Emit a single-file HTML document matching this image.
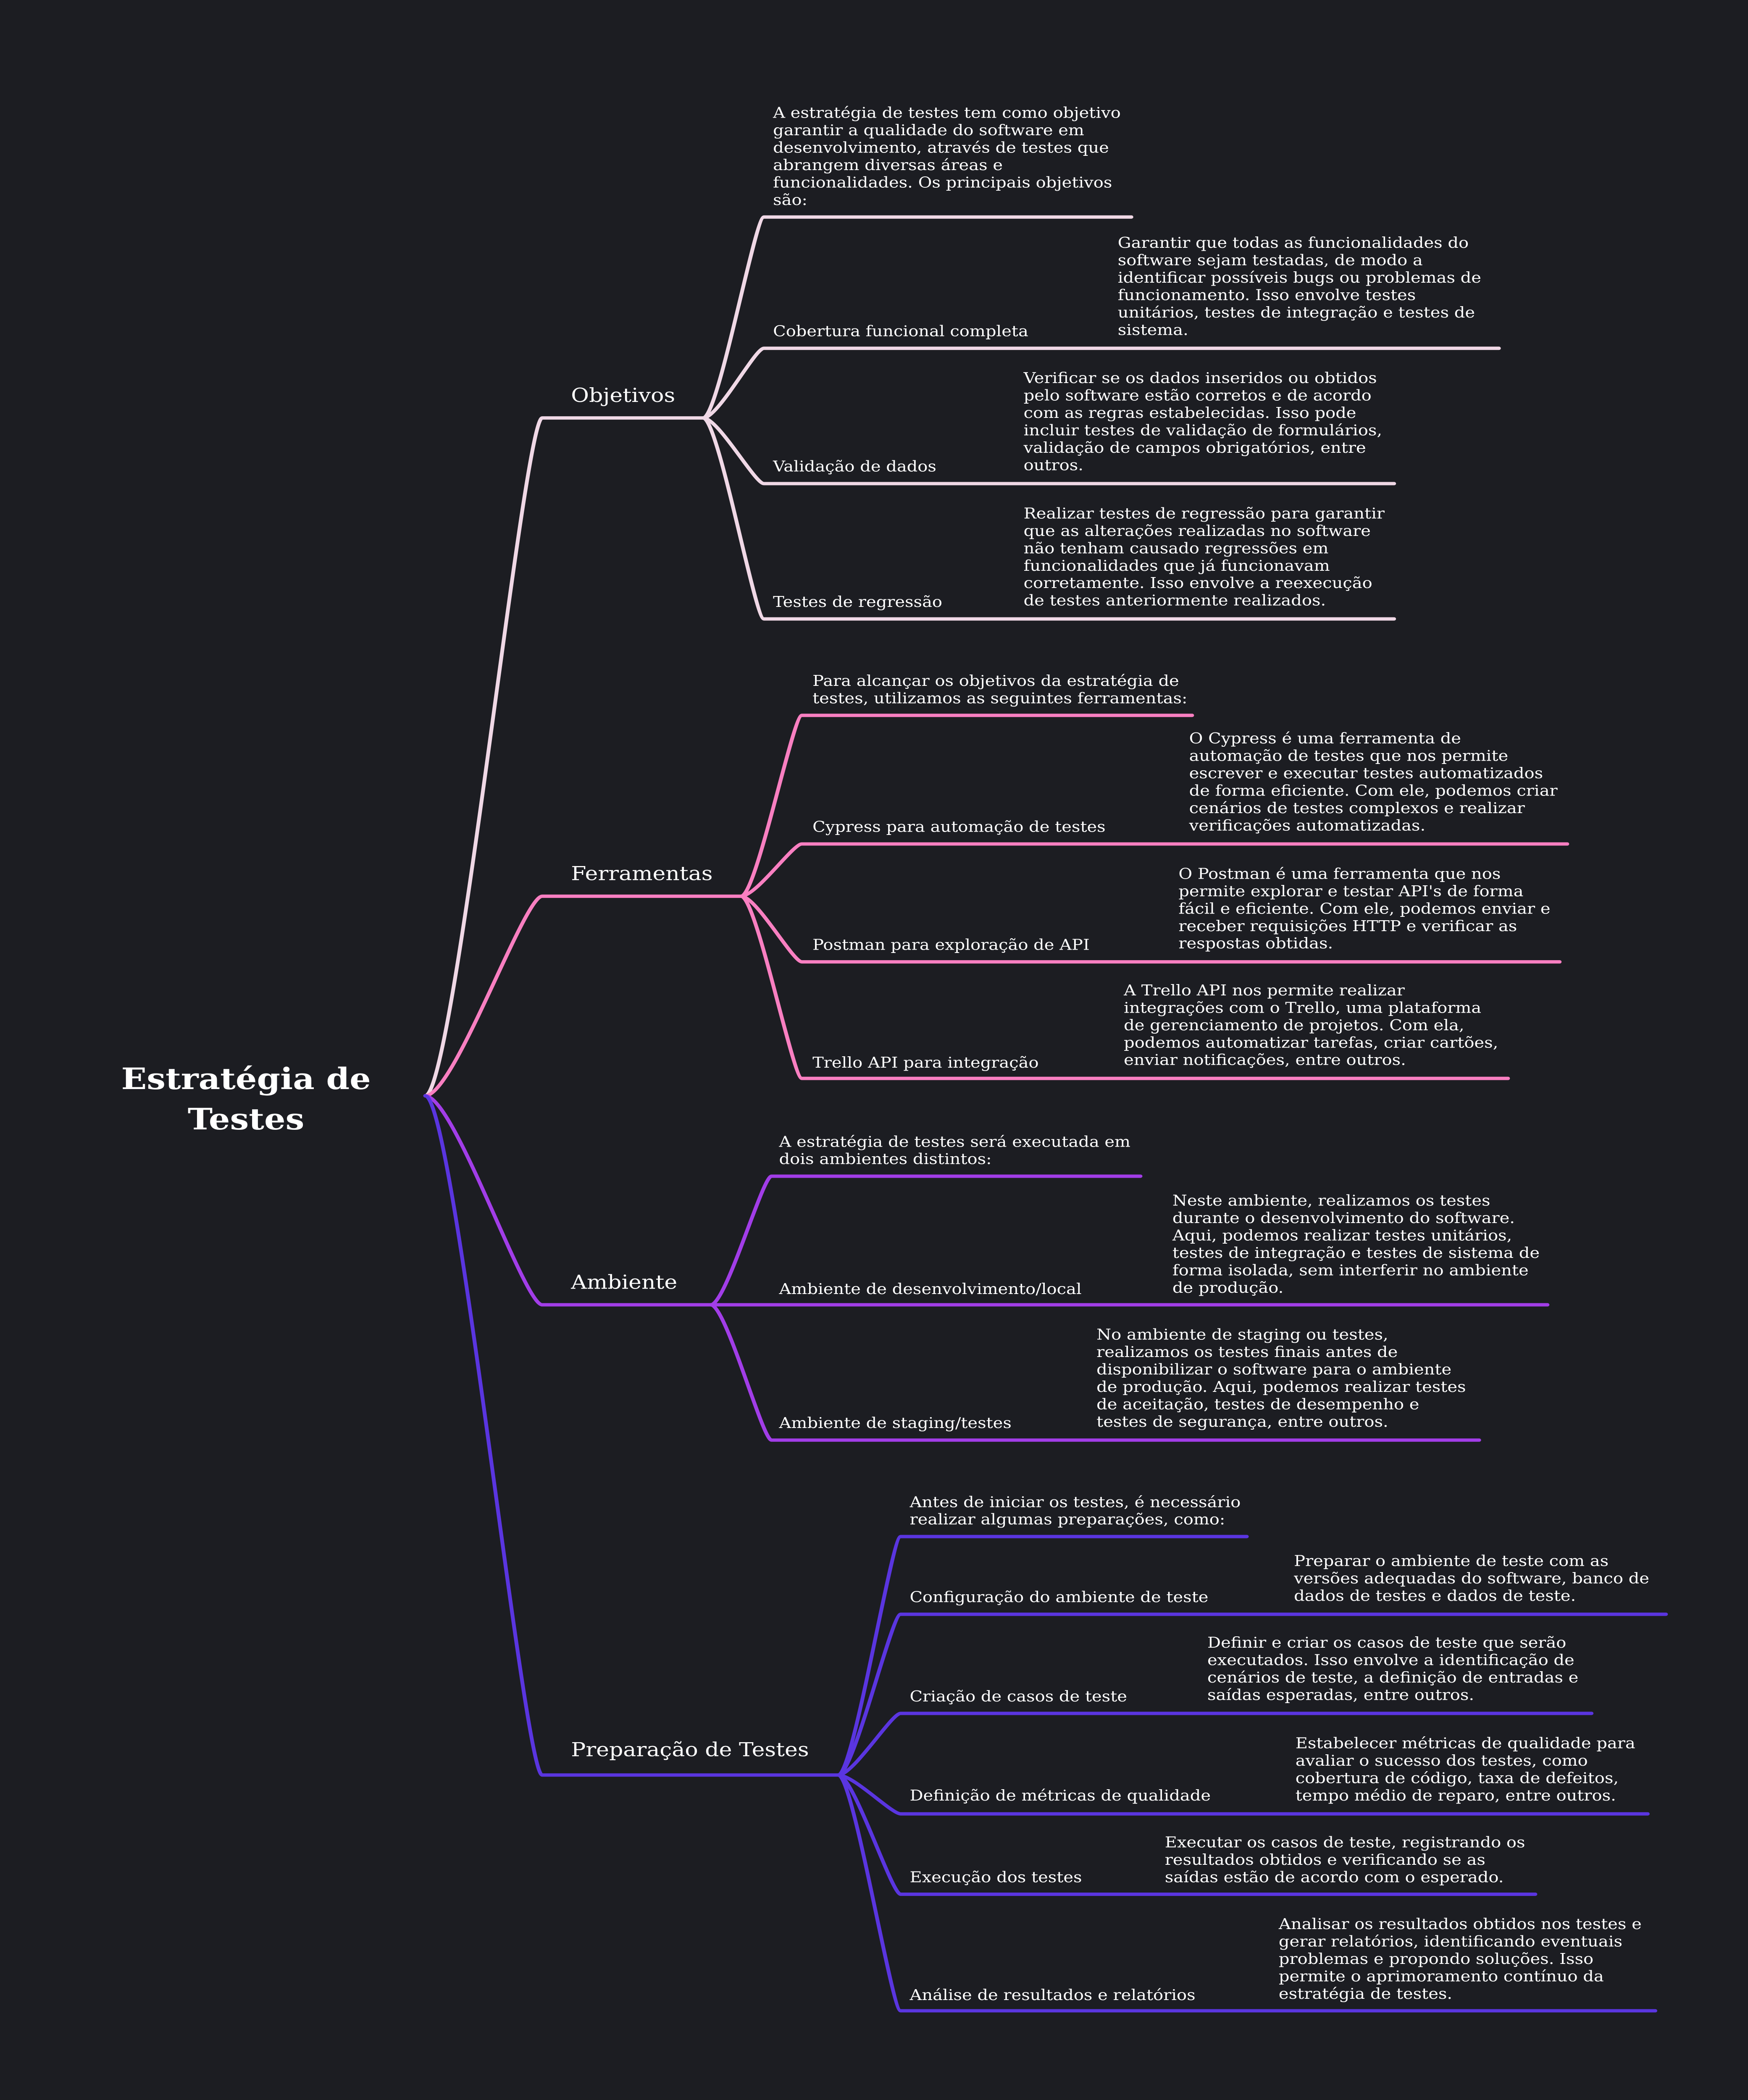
<!DOCTYPE html>
<html><head><meta charset="utf-8">
<style>
html,body{margin:0;padding:0;background:#1c1d22;width:100vw;height:100vh;overflow:hidden;}
svg{display:block;position:absolute;left:0;top:0;width:100vw;height:100vh;}
text{font-family:"DejaVu Serif","Liberation Serif",serif;fill:#ffffff;}
.b{font-size:11.07px;}
.m{font-size:14.4px;}
.r{font-size:22px;font-weight:bold;}
path{fill:none;stroke-width:2.5;stroke-linecap:round;}
</style></head>
<body>
<svg viewBox="0 0 1151 1567.6" preserveAspectRatio="none" xmlns="http://www.w3.org/2000/svg">
<rect width="1151" height="1568" fill="#1c1d22"/>

<text class="r" x="162" y="813" text-anchor="middle">Estratégia de</text>
<text class="r" x="162" y="843" text-anchor="middle">Testes</text>

<path stroke="#f0d8e6" d="M280,818 C299,818 345,312 357,312 L463,312"/>
<path stroke="#f97fc1" d="M280,818 C299,818 345,669 357,669 L488,669"/>
<path stroke="#a23de8" d="M280,818 C299,818 345,974 357,974 L468,974"/>
<path stroke="#5a35e0" d="M280,818 C299,818 345,1325 357,1325 L552,1325"/>

<text class="m" x="376" y="300">Objetivos</text>
<g stroke="#f0d8e6">
<path d="M463,312 C473,312 497,162 503,162 L745,162"/>
<path d="M463,312 C473,312 497,260 503,260 L987,260"/>
<path d="M463,312 C473,312 497,361 503,361 L918,361"/>
<path d="M463,312 C473,312 497,462 503,462 L918,462"/>
</g>
<g class="b">
<text x="509" y="88">A estratégia de testes tem como objetivo</text>
<text x="509" y="101">garantir a qualidade do software em</text>
<text x="509" y="114">desenvolvimento, através de testes que</text>
<text x="509" y="127">abrangem diversas áreas e</text>
<text x="509" y="140">funcionalidades. Os principais objetivos</text>
<text x="509" y="153">são:</text>

<text x="509" y="251">Cobertura funcional completa</text>
<text x="736" y="185">Garantir que todas as funcionalidades do</text>
<text x="736" y="198">software sejam testadas, de modo a</text>
<text x="736" y="211">identificar possíveis bugs ou problemas de</text>
<text x="736" y="224">funcionamento. Isso envolve testes</text>
<text x="736" y="237">unitários, testes de integração e testes de</text>
<text x="736" y="250">sistema.</text>

<text x="509" y="352">Validação de dados</text>
<text x="674" y="286">Verificar se os dados inseridos ou obtidos</text>
<text x="674" y="299">pelo software estão corretos e de acordo</text>
<text x="674" y="312">com as regras estabelecidas. Isso pode</text>
<text x="674" y="325">incluir testes de validação de formulários,</text>
<text x="674" y="338">validação de campos obrigatórios, entre</text>
<text x="674" y="351">outros.</text>

<text x="509" y="453">Testes de regressão</text>
<text x="674" y="387">Realizar testes de regressão para garantir</text>
<text x="674" y="400">que as alterações realizadas no software</text>
<text x="674" y="413">não tenham causado regressões em</text>
<text x="674" y="426">funcionalidades que já funcionavam</text>
<text x="674" y="439">corretamente. Isso envolve a reexecução</text>
<text x="674" y="452">de testes anteriormente realizados.</text>
</g>

<text class="m" x="376" y="657">Ferramentas</text>
<g stroke="#f97fc1">
<path d="M488,669 C498,669 522,534 528,534 L785,534"/>
<path d="M488,669 C498,669 522,630 528,630 L1032,630"/>
<path d="M488,669 C498,669 522,718 528,718 L1027,718"/>
<path d="M488,669 C498,669 522,805 528,805 L993,805"/>
</g>
<g class="b">
<text x="535" y="512">Para alcançar os objetivos da estratégia de</text>
<text x="535" y="525">testes, utilizamos as seguintes ferramentas:</text>

<text x="535" y="621">Cypress para automação de testes</text>
<text x="783" y="555">O Cypress é uma ferramenta de</text>
<text x="783" y="568">automação de testes que nos permite</text>
<text x="783" y="581">escrever e executar testes automatizados</text>
<text x="783" y="594">de forma eficiente. Com ele, podemos criar</text>
<text x="783" y="607">cenários de testes complexos e realizar</text>
<text x="783" y="620">verificações automatizadas.</text>

<text x="535" y="709">Postman para exploração de API</text>
<text x="776" y="656">O Postman é uma ferramenta que nos</text>
<text x="776" y="669">permite explorar e testar API's de forma</text>
<text x="776" y="682">fácil e eficiente. Com ele, podemos enviar e</text>
<text x="776" y="695">receber requisições HTTP e verificar as</text>
<text x="776" y="708">respostas obtidas.</text>

<text x="535" y="797">Trello API para integração</text>
<text x="740" y="743">A Trello API nos permite realizar</text>
<text x="740" y="756">integrações com o Trello, uma plataforma</text>
<text x="740" y="769">de gerenciamento de projetos. Com ela,</text>
<text x="740" y="782">podemos automatizar tarefas, criar cartões,</text>
<text x="740" y="795">enviar notificações, entre outros.</text>
</g>

<text class="m" x="376" y="962">Ambiente</text>
<g stroke="#a23de8">
<path d="M468,974 C478,974 502,878 508,878 L751,878"/>
<path d="M468,974 C478,974 502,974 508,974 L1019,974"/>
<path d="M468,974 C478,974 502,1075 508,1075 L974,1075"/>
</g>
<g class="b">
<text x="513" y="856">A estratégia de testes será executada em</text>
<text x="513" y="869">dois ambientes distintos:</text>

<text x="513" y="966">Ambiente de desenvolvimento/local</text>
<text x="772" y="900">Neste ambiente, realizamos os testes</text>
<text x="772" y="913">durante o desenvolvimento do software.</text>
<text x="772" y="926">Aqui, podemos realizar testes unitários,</text>
<text x="772" y="939">testes de integração e testes de sistema de</text>
<text x="772" y="952">forma isolada, sem interferir no ambiente</text>
<text x="772" y="965">de produção.</text>

<text x="513" y="1066">Ambiente de staging/testes</text>
<text x="722" y="1000">No ambiente de staging ou testes,</text>
<text x="722" y="1013">realizamos os testes finais antes de</text>
<text x="722" y="1026">disponibilizar o software para o ambiente</text>
<text x="722" y="1039">de produção. Aqui, podemos realizar testes</text>
<text x="722" y="1052">de aceitação, testes de desempenho e</text>
<text x="722" y="1065">testes de segurança, entre outros.</text>
</g>

<text class="m" x="376" y="1311">Preparação de Testes</text>
<g stroke="#5a35e0">
<path d="M552,1325 C562,1325 587,1147 593,1147 L821,1147"/>
<path d="M552,1325 C562,1325 587,1205 593,1205 L1097,1205"/>
<path d="M552,1325 C562,1325 587,1279 593,1279 L1048,1279"/>
<path d="M552,1325 C562,1325 587,1354 593,1354 L1085,1354"/>
<path d="M552,1325 C562,1325 587,1414 593,1414 L1011,1414"/>
<path d="M552,1325 C562,1325 587,1501 593,1501 L1090,1501"/>
</g>
<g class="b">
<text x="599" y="1125">Antes de iniciar os testes, é necessário</text>
<text x="599" y="1138">realizar algumas preparações, como:</text>

<text x="599" y="1196">Configuração do ambiente de teste</text>
<text x="852" y="1169">Preparar o ambiente de teste com as</text>
<text x="852" y="1182">versões adequadas do software, banco de</text>
<text x="852" y="1195">dados de testes e dados de teste.</text>

<text x="599" y="1270">Criação de casos de teste</text>
<text x="795" y="1230">Definir e criar os casos de teste que serão</text>
<text x="795" y="1243">executados. Isso envolve a identificação de</text>
<text x="795" y="1256">cenários de teste, a definição de entradas e</text>
<text x="795" y="1269">saídas esperadas, entre outros.</text>

<text x="599" y="1344">Definição de métricas de qualidade</text>
<text x="853" y="1305">Estabelecer métricas de qualidade para</text>
<text x="853" y="1318">avaliar o sucesso dos testes, como</text>
<text x="853" y="1331">cobertura de código, taxa de defeitos,</text>
<text x="853" y="1344">tempo médio de reparo, entre outros.</text>

<text x="599" y="1405">Execução dos testes</text>
<text x="767" y="1379">Executar os casos de teste, registrando os</text>
<text x="767" y="1392">resultados obtidos e verificando se as</text>
<text x="767" y="1405">saídas estão de acordo com o esperado.</text>

<text x="599" y="1493">Análise de resultados e relatórios</text>
<text x="842" y="1440">Analisar os resultados obtidos nos testes e</text>
<text x="842" y="1453">gerar relatórios, identificando eventuais</text>
<text x="842" y="1466">problemas e propondo soluções. Isso</text>
<text x="842" y="1479">permite o aprimoramento contínuo da</text>
<text x="842" y="1492">estratégia de testes.</text>
</g>
</svg>
</body></html>
